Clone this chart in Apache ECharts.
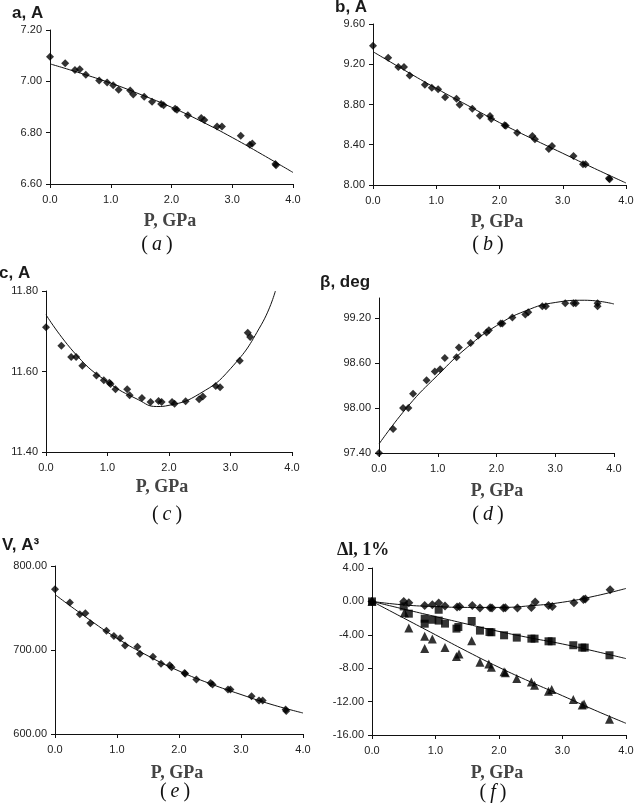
<!DOCTYPE html>
<html><head><meta charset="utf-8">
<script src="https://cdn.jsdelivr.net/npm/echarts@6/dist/echarts.min.js"></script>
<style>html,body{margin:0;padding:0;background:#fff}#c{width:640px;height:804px}</style>
</head><body><div id="c"></div>
<script>
// ---------- data ----------
const fitP = [0, 0.5, 1, 1.5, 2, 2.5, 3, 3.5, 4];

// (a) lattice parameter a, A
const aP   = [0, 0.25, 0.41, 0.49, 0.59, 0.81, 0.94, 1.04, 1.13, 1.32, 1.37, 1.55, 1.68, 1.83, 1.87, 2.06, 2.09, 2.27, 2.49, 2.54, 2.75, 2.83, 3.14, 3.29, 3.33, 3.71, 3.72];
const aVal = [7.096, 7.070, 7.044, 7.047, 7.026, 7.003, 6.995, 6.985, 6.967, 6.964, 6.949, 6.940, 6.920, 6.912, 6.907, 6.893, 6.889, 6.868, 6.857, 6.849, 6.824, 6.824, 6.788, 6.753, 6.758, 6.678, 6.673];
const aFit = [7.068, 7.032, 6.993, 6.948, 6.899, 6.843, 6.781, 6.714, 6.645];

// (b) lattice parameter b, A
const bP   = [0, 0.24, 0.40, 0.49, 0.58, 0.82, 0.93, 1.03, 1.14, 1.32, 1.37, 1.57, 1.69, 1.85, 1.87, 2.08, 2.10, 2.28, 2.52, 2.56, 2.78, 2.83, 3.17, 3.32, 3.36, 3.73, 3.74];
const bVal = [9.385, 9.265, 9.173, 9.173, 9.087, 8.997, 8.967, 8.951, 8.871, 8.858, 8.798, 8.759, 8.689, 8.686, 8.656, 8.593, 8.590, 8.520, 8.487, 8.454, 8.358, 8.388, 8.288, 8.205, 8.205, 8.066, 8.056];
const bFit = [9.325, 9.140, 8.960, 8.790, 8.620, 8.465, 8.315, 8.165, 8.020];

// (c) lattice parameter c, A
const cP   = [0, 0.25, 0.41, 0.49, 0.59, 0.82, 0.94, 1.03, 1.05, 1.13, 1.32, 1.36, 1.56, 1.70, 1.83, 1.88, 2.05, 2.09, 2.27, 2.49, 2.55, 2.76, 2.83, 3.15, 3.28, 3.32];
const cVal = [11.710, 11.664, 11.636, 11.636, 11.614, 11.590, 11.578, 11.572, 11.569, 11.556, 11.556, 11.541, 11.534, 11.524, 11.527, 11.524, 11.524, 11.520, 11.526, 11.531, 11.538, 11.564, 11.561, 11.627, 11.696, 11.686];
const cFitP = [0, 0.5, 1, 1.5, 1.8, 2, 2.5, 3, 3.5, 3.73];
const cFit  = [11.741, 11.640, 11.574, 11.530, 11.513, 11.516, 11.545, 11.607, 11.716, 11.800];

// (d) monoclinic angle beta, deg
const dP   = [0, 0.24, 0.41, 0.50, 0.58, 0.81, 0.95, 1.04, 1.12, 1.32, 1.36, 1.56, 1.69, 1.83, 1.87, 2.07, 2.10, 2.27, 2.49, 2.54, 2.78, 2.84, 3.17, 3.31, 3.35, 3.72, 3.72];
const dVal = [97.40, 97.72, 98.00, 98.00, 98.19, 98.37, 98.49, 98.52, 98.67, 98.68, 98.81, 98.87, 98.97, 99.01, 99.04, 99.13, 99.13, 99.21, 99.25, 99.28, 99.36, 99.36, 99.40, 99.40, 99.40, 99.40, 99.36];
const dFit = [97.52, 98.03, 98.44, 98.81, 99.10, 99.30, 99.41, 99.44, 99.39];
const dTicks = [97.4, 98.0, 98.6, 99.2];

// (e) cell volume V, A^3
const eP   = [0, 0.24, 0.40, 0.49, 0.57, 0.83, 0.95, 1.05, 1.13, 1.33, 1.37, 1.58, 1.71, 1.85, 1.88, 2.09, 2.10, 2.28, 2.51, 2.54, 2.79, 2.83, 3.17, 3.29, 3.35, 3.72, 3.73];
const eVal = [772.3, 756.4, 742.6, 743.8, 731.9, 722.8, 716.8, 714.1, 705.3, 703.8, 695.4, 691.9, 683.6, 681.7, 679.4, 672.7, 671.7, 664.8, 660.8, 658.8, 652.9, 652.9, 644.9, 639.8, 639.8, 629.1, 627.5];
const eFit = [766, 739, 714, 693, 675, 660, 647, 635, 625];

// (f) relative change, %  (diamonds, squares, triangles)
const fDiaP = [0, 0.50, 0.58, 0.83, 0.95, 1.05, 1.15, 1.34, 1.38, 1.58, 1.70, 1.86, 1.89, 2.07, 2.10, 2.29, 2.51, 2.57, 2.78, 2.84, 3.18, 3.33, 3.36, 3.75];
const fDiaV = [0, 0.0, -0.16, -0.48, -0.40, -0.20, -0.56, -0.68, -0.60, -0.48, -0.80, -0.76, -0.80, -0.80, -0.76, -0.78, -0.74, -0.08, -0.48, -0.62, -0.16, 0.24, 0.30, 1.41];
const fSqP  = [0, 0.50, 0.58, 0.83, 0.83, 0.95, 1.05, 1.05, 1.15, 1.33, 1.36, 1.57, 1.70, 1.85, 1.88, 2.08, 2.28, 2.51, 2.56, 2.78, 2.83, 3.17, 3.31, 3.35, 3.74];
const fSqV  = [0, -0.6, -1.47, -2.07, -2.67, -2.2, -1.0, -2.3, -2.66, -3.26, -3.07, -2.35, -3.5, -3.67, -3.7, -4.06, -4.34, -4.46, -4.46, -4.78, -4.78, -5.25, -5.53, -5.53, -6.45];
const fTriP = [0, 0.51, 0.58, 0.83, 0.83, 0.95, 1.15, 1.33, 1.37, 1.57, 1.70, 1.84, 1.88, 2.08, 2.10, 2.28, 2.51, 2.56, 2.78, 2.83, 3.17, 3.31, 3.34, 3.74];
const fTriV = [0, -1.35, -3.2, -4.18, -5.65, -4.5, -5.53, -6.6, -6.3, -4.7, -7.3, -7.5, -7.9, -8.44, -8.55, -9.24, -9.64, -10.03, -10.75, -10.55, -11.74, -12.42, -12.30, -14.1];
const fDiaFit = [0, -0.42, -0.62, -0.72, -0.72, -0.52, -0.10, 0.62, 1.55];
const fSqFit  = [0, -0.92, -1.82, -2.72, -3.60, -4.38, -5.10, -5.95, -6.85];
const fTriFit = [0, -2.0, -4.0, -6.0, -7.9, -9.65, -11.3, -13.0, -14.6];

const xTicks = ['0.0', '1.0', '2.0', '3.0', '4.0'];
const yNames = ['a, A', 'b, A', 'c, A', 'β, deg', 'V, A³', 'Δl, 1%'];
const panelTags = ['a', 'b', 'c', 'd', 'e', 'f'];
const xName = 'P, GPa';

// ---------- chart ----------
const pairs = (xs, ys) => xs.map((x, i) => [x, ys[i]]);
const chart = echarts.init(document.getElementById('c'), null, {renderer: 'canvas'});

const grids = [
  {left: 50,  top: 30,  width: 243, height: 154},
  {left: 373, top: 24,  width: 253, height: 161},
  {left: 46,  top: 291, width: 246, height: 161},
  {left: 379, top: 298, width: 235, height: 155},
  {left: 55,  top: 566, width: 248, height: 168},
  {left: 372, top: 568, width: 254, height: 167}
];
const yRanges = [
  {min: 6.6, max: 7.2, interval: 0.2},
  {min: 8.0, max: 9.6, interval: 0.4},
  {min: 11.4, max: 11.8, interval: 0.2},
  {min: 97.4, max: 99.47},
  {min: 600, max: 800, interval: 100},
  {min: -16, max: 4, interval: 4}
];
const labelFont = {fontSize: 11, color: '#222', fontFamily: 'Liberation Sans, Arial, sans-serif'};

const xAxes = grids.map((g, i) => ({
  type: 'value', gridIndex: i, min: 0, max: 4, interval: 1,
  axisLine: {onZero: false, lineStyle: {color: '#111', width: 1}},
  axisTick: {show: true, inside: false, length: 4, lineStyle: {color: '#111'}},
  axisLabel: Object.assign({margin: 10, formatter: v => xTicks[Math.round(v)]}, labelFont),
  splitLine: {show: false}
}));
const yAxes = grids.map((g, i) => {
  const ax = Object.assign({
    type: 'value', gridIndex: i,
    axisLine: {show: true, onZero: false, lineStyle: {color: '#111', width: 1}},
    axisTick: {show: true, inside: false, length: 4, lineStyle: {color: '#111'}},
    axisLabel: Object.assign({margin: 8, formatter: v => v.toFixed(2)}, labelFont),
    splitLine: {show: false}
  }, yRanges[i]);
  if (i === 3) {
    ax.axisLabel.customValues = dTicks;
    ax.axisTick.customValues = dTicks;
  }
  return ax;
});

const lineStyle = {color: '#111', width: 1};
function fit(i, xs, ys) {
  return {type: 'line', xAxisIndex: i, yAxisIndex: i, data: pairs(xs, ys), smooth: 0.5,
    symbol: 'none', lineStyle: lineStyle, z: 1, silent: true, clip: true};
}
function pts(i, xs, ys, sym, size) {
  return {type: 'scatter', xAxisIndex: i, yAxisIndex: i, data: pairs(xs, ys), symbol: sym,
    symbolSize: size, itemStyle: {color: '#000'}, z: 2, clip: false};
}

const series = [
  fit(0, fitP, aFit), pts(0, aP, aVal, 'diamond', 8),
  fit(1, fitP, bFit), pts(1, bP, bVal, 'diamond', 8),
  fit(2, cFitP, cFit), pts(2, cP, cVal, 'diamond', 8),
  fit(3, fitP, dFit), pts(3, dP, dVal, 'diamond', 8),
  fit(4, fitP, eFit), pts(4, eP, eVal, 'diamond', 8),
  fit(5, fitP, fDiaFit), fit(5, fitP, fSqFit), fit(5, fitP, fTriFit),
  pts(5, fDiaP, fDiaV, 'diamond', 9),
  pts(5, fSqP, fSqV, 'rect', 8),
  pts(5, fTriP, fTriV, 'triangle', 9)
];

// text positions (layout)
const namePos = [[12, 14], [335, 8], [-1, 274], [320, 283], [2, 546], [337, 550]];
const xNamePos = [[170, 221], [497, 222], [162, 487], [497, 491], [177, 773], [497, 773]];
const tagPos = [[157, 245], [488, 245], [167, 515], [488, 515], [175, 792], [493, 793]];

const graphic = [];
yNames.forEach((t, i) => {
  const serif = i === 5;
  graphic.push({type: 'text', left: namePos[i][0], top: namePos[i][1] - 9, silent: true,
    style: {text: t, fill: '#1a1a1a', fontWeight: 'bold',
      fontSize: serif ? 18 : 17,
      fontFamily: serif ? 'Liberation Serif, Times New Roman, serif' : 'Liberation Sans, Arial, sans-serif'}});
});
xNamePos.forEach((p, i) => {
  graphic.push({type: 'text', x: p[0], y: p[1], silent: true,
    style: {text: xName, fill: '#444', fontWeight: 'bold', fontSize: 18,
      fontFamily: 'Liberation Serif, Times New Roman, serif', align: 'center', verticalAlign: 'middle'}});
});
tagPos.forEach((p, i) => {
  graphic.push({type: 'text', x: p[0], y: p[1], silent: true,
    style: {text: '{p|(}{i|' + panelTags[i] + '}{p|)}', align: 'center', verticalAlign: 'middle',
      fontFamily: 'Liberation Serif, Times New Roman, serif', fontSize: 20, fill: '#111',
      rich: {p: {fontSize: 20, fontFamily: 'Liberation Serif, Times New Roman, serif', fill: '#111', padding: [0, 2, 0, 2]},
             i: {fontSize: 20, fontStyle: 'italic', fontFamily: 'Liberation Serif, Times New Roman, serif', fill: '#111', padding: [0, 2, 0, 2]}}}});
});

chart.setOption({
  animation: false,
  backgroundColor: '#fff',
  grid: grids,
  xAxis: xAxes,
  yAxis: yAxes,
  series: series,
  graphic: graphic
});
</script>
</body></html>
